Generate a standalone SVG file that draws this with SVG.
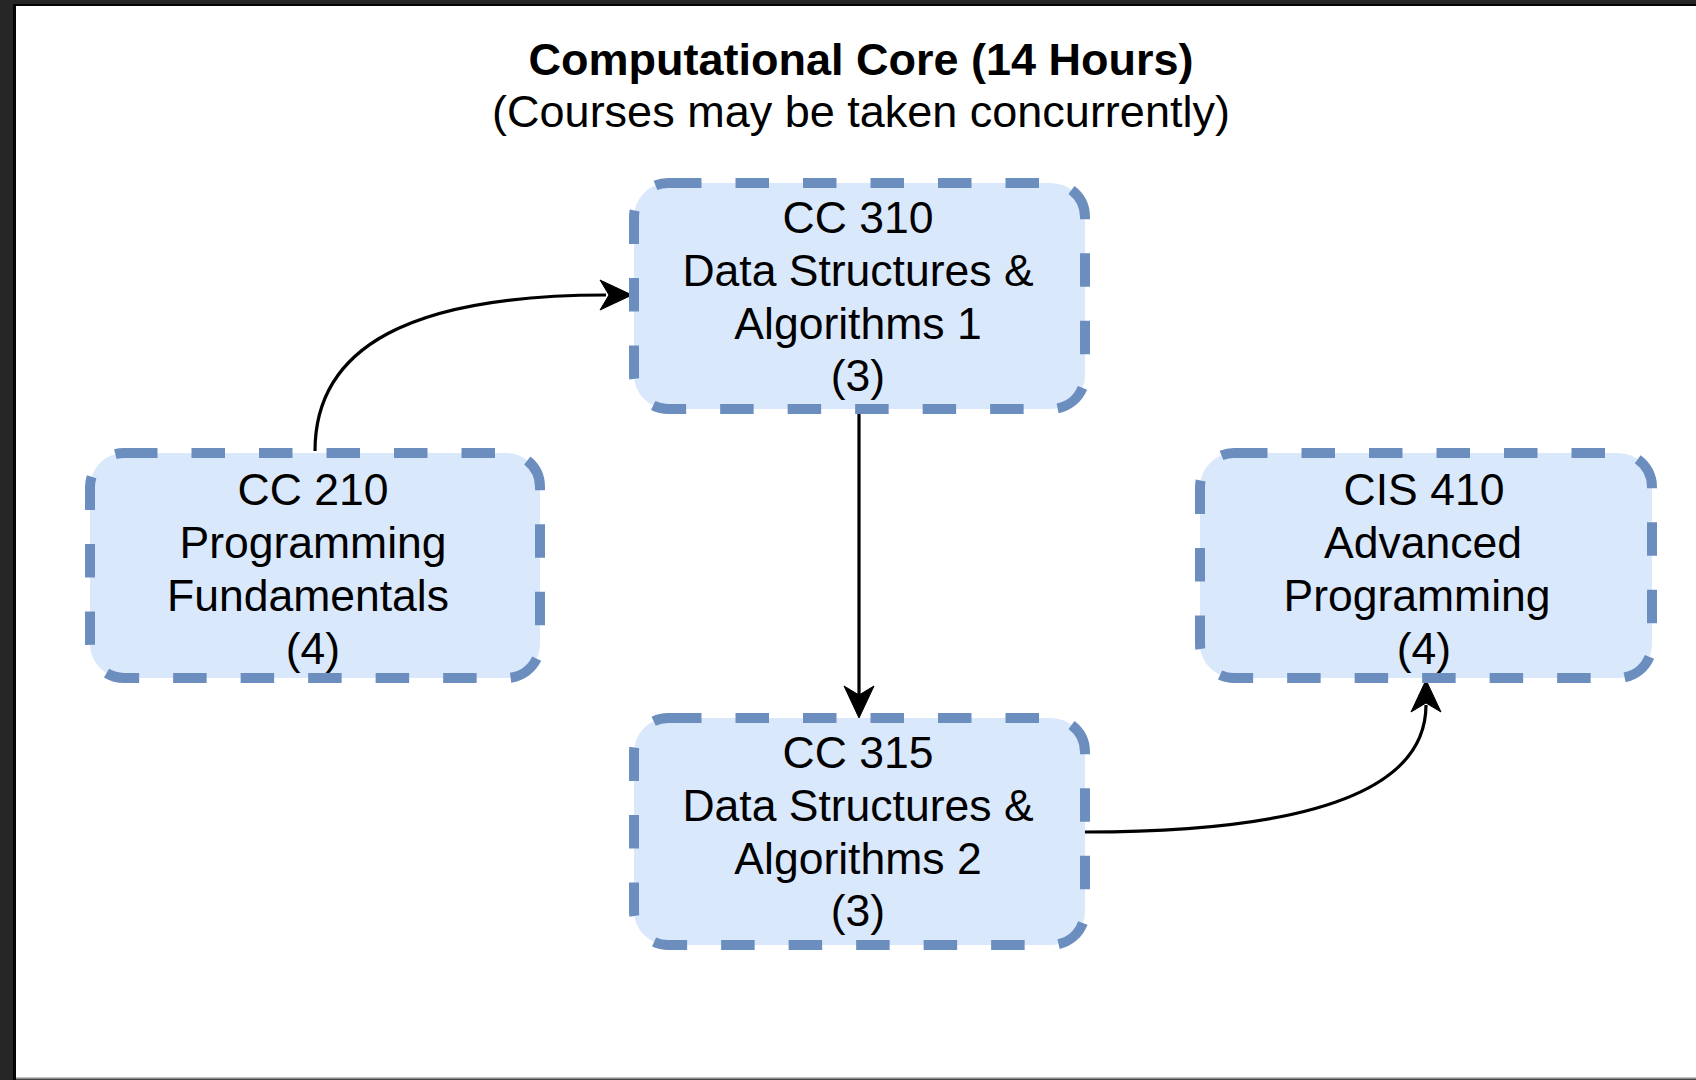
<svg xmlns="http://www.w3.org/2000/svg" width="1696" height="1080" viewBox="0 0 1696 1080">
<style>
.frame{fill:#262626}
.node rect{fill:#dae8fc;stroke:#6c8ebf;stroke-width:10;stroke-dasharray:33.5 34}
.node text{font-family:"Liberation Sans",Arial,sans-serif;font-size:44.5px;fill:#000;text-anchor:middle}
.title{font-family:"Liberation Sans",Arial,sans-serif;font-size:45px;fill:#000;text-anchor:middle}
.edge{fill:none;stroke:#000;stroke-width:3.2}
.head{fill:#000;stroke:#000;stroke-width:1;stroke-linejoin:miter}
</style>
<rect class="frame" x="0" y="0" width="1696" height="1080"/>
<rect x="13" y="4" width="1683" height="1076" fill="#050505"/>
<rect x="16" y="6" width="1680" height="1072" fill="#ffffff"/>
<line x1="16" y1="1078.5" x2="1696" y2="1078.5" stroke="#8a8a8a" stroke-width="2"/>

<g id="title">
<text class="title" x="861" y="75" font-weight="bold">Computational Core (14 Hours)</text>
<text class="title" x="861" y="127">(Courses may be taken concurrently)</text>
</g>

<g id="connectors">
<path class="edge" d="M315,451 C315,347 410,295 606,295"/>
<path class="head" d="M632,295 L600,280 L609,295 L600,310 Z"/>
<path class="edge" d="M859,411 L859,696"/>
<path class="head" d="M859,718 L844,686 L859,695 L874,686 Z"/>
<path class="edge" d="M1085,832 C1312,832 1426,790 1426,705"/>
<path class="head" d="M1426,680 L1411,712 L1426,703 L1441,712 Z"/>
</g>

<g id="node-cc310" class="node">
<rect x="634" y="183" width="451" height="226" rx="34" ry="34"/>
<text x="858" y="233">CC 310</text>
<text x="858" y="286">Data Structures &amp;</text>
<text x="858" y="339">Algorithms 1</text>
<text x="858" y="391">(3)</text>
</g>

<g id="node-cc210" class="node">
<rect x="90" y="453" width="450" height="225" rx="34" ry="34"/>
<text x="313" y="505">CC 210</text>
<text x="313" y="558">Programming</text>
<text x="308" y="611">Fundamentals</text>
<text x="313" y="664">(4)</text>
</g>

<g id="node-cis410" class="node">
<rect x="1200" y="453" width="452" height="225" rx="34" ry="34"/>
<text x="1424" y="505">CIS 410</text>
<text x="1423" y="558">Advanced</text>
<text x="1417" y="611">Programming</text>
<text x="1424" y="664">(4)</text>
</g>

<g id="node-cc315" class="node">
<rect x="634" y="718" width="451" height="227" rx="34" ry="34"/>
<text x="858" y="768">CC 315</text>
<text x="858" y="821">Data Structures &amp;</text>
<text x="858" y="874">Algorithms 2</text>
<text x="858" y="926">(3)</text>
</g>
</svg>
